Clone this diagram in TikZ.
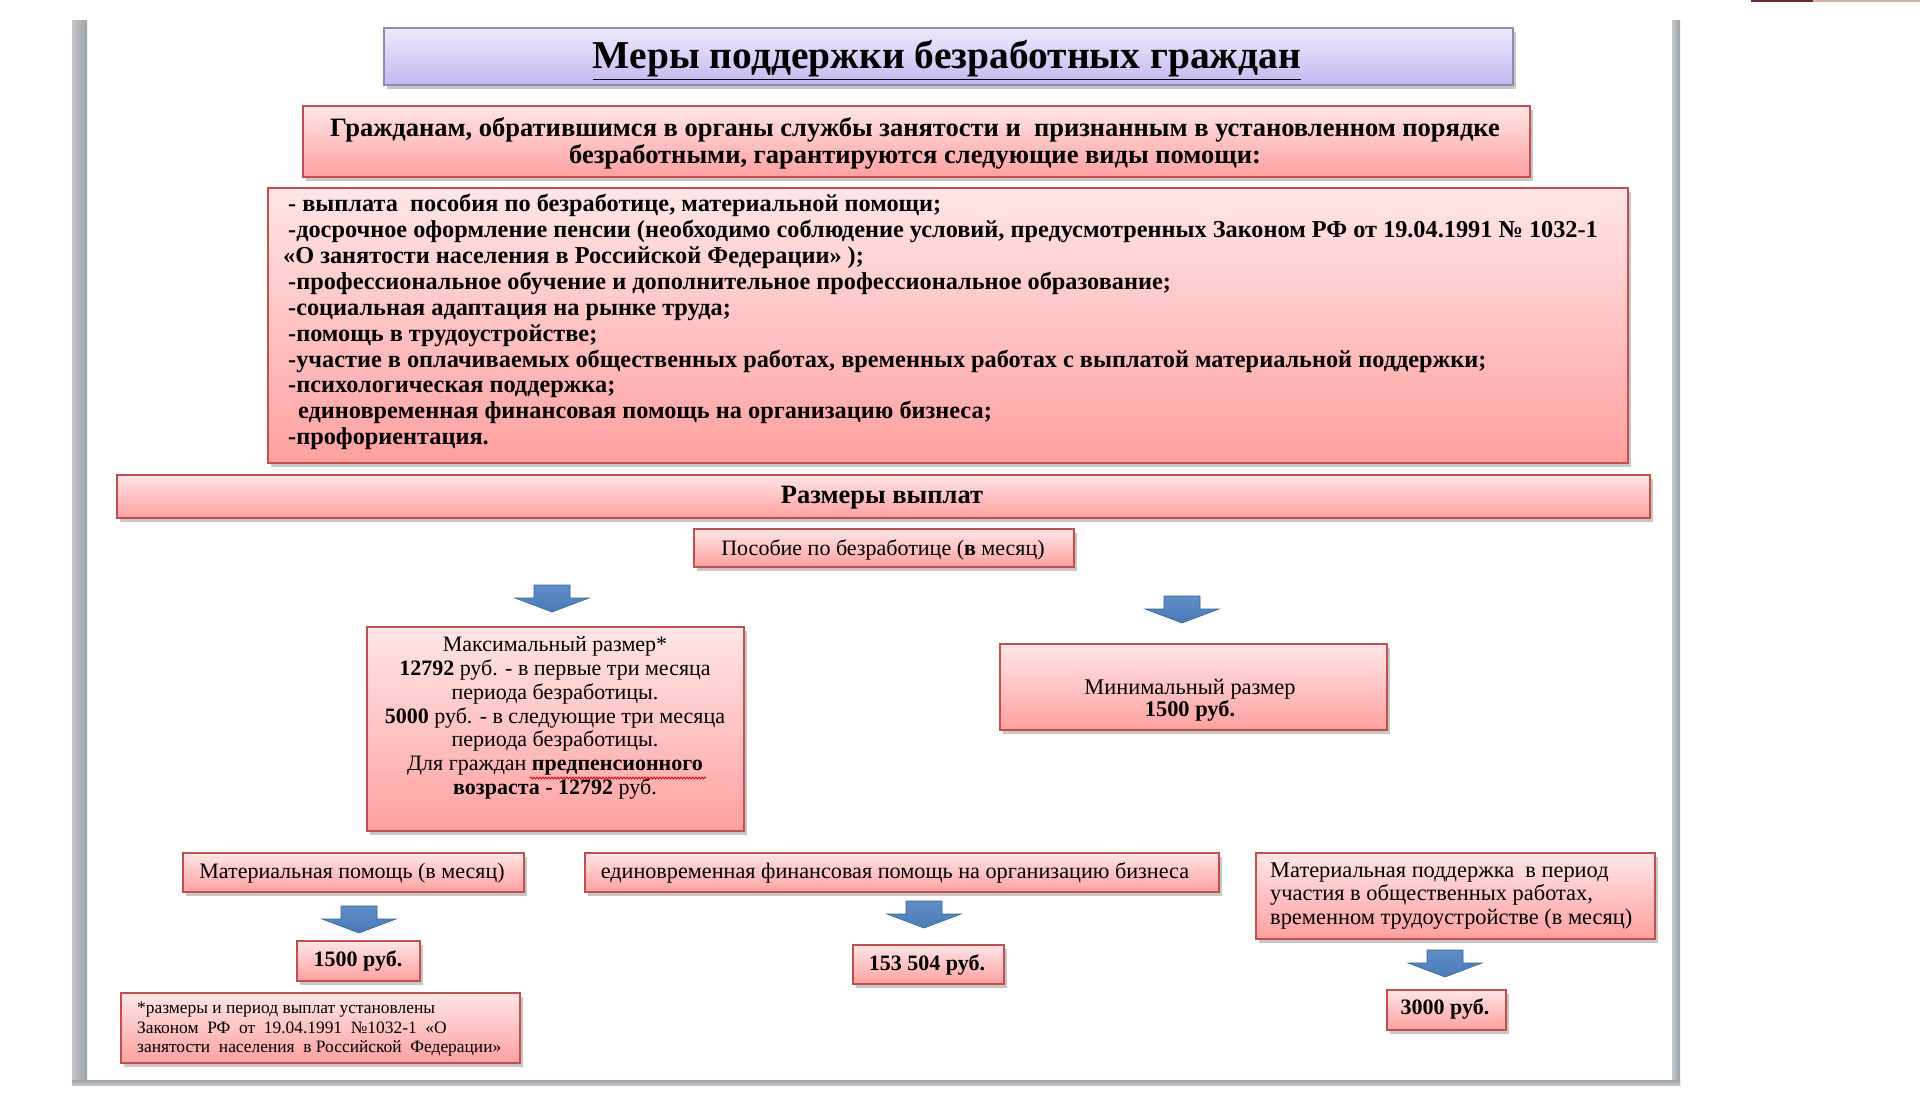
\documentclass[tikz,border=0pt]{standalone}
\usepackage{fontspec}
\setmainfont{Liberation Serif}
\usetikzlibrary{shadows,decorations.pathmorphing}
\definecolor{pinktop}{HTML}{FFE6E6}
\definecolor{pinkbot}{HTML}{FFA0A0}
\definecolor{pinkline}{HTML}{C0504D}
\definecolor{lavtop}{HTML}{EFEAFC}
\definecolor{lavbot}{HTML}{C5B7F0}
\definecolor{lavline}{HTML}{8F88B2}
\definecolor{arrowblue}{HTML}{4A7BB7}
\definecolor{arrowlight}{HTML}{5F8DC7}
\definecolor{pageleft}{HTML}{C3C7CC}
\definecolor{pageright}{HTML}{9EA3A8}
\tikzset{
  box/.style={inner sep=0pt, anchor=north west, line width=1.5pt,
    drop shadow={shadow xshift=3pt, shadow yshift=-4pt, fill=black, opacity=.22}},
  pinkbox/.style={box, draw=pinkline, top color=pinktop, bottom color=pinkbot},
  lavbox/.style={box, draw=lavline, top color=lavtop, bottom color=lavbot},
  txt/.style={inner sep=0pt, text=black},
  blockarrow/.style={top color=arrowlight, bottom color=arrowblue, draw=arrowblue!80!black, line width=0.6pt},
  squiggle/.style={draw=red!85!black, line width=0.8pt, decorate, decoration={snake, amplitude=1pt, segment length=3pt}},
}
\begin{document}
\begin{tikzpicture}[x=1pt,y=-1pt]
\useasboundingbox (0,0) rectangle (1920,1112);
% page
\fill[white] (87,0) rectangle (1672,1080);
\shade[left color=pageleft, right color=pageright] (72,20) rectangle (87,1085);
\shade[left color=pageleft, right color=pageright] (1672,20) rectangle (1680,1085);
\shade[top color=pageright, bottom color=pageleft] (72,1080) rectangle (1680,1085);
\draw[line width=2pt, color={rgb,255:red,110;green,40;blue,40}] (1751,1) -- (1813,1);
\draw[line width=2pt, color={rgb,255:red,215;green,175;blue,165}] (1813,1) -- (1920,1);

% boxes
\node[lavbox, minimum width=1129pt, minimum height=57pt] (title) at (383,27) {};
\node[pinkbox, minimum width=1227pt, minimum height=71pt] (intro) at (302,105) {};
\node[pinkbox, minimum width=1360pt, minimum height=275pt] (list) at (267,187) {};
\node[pinkbox, minimum width=1533pt, minimum height=43pt] (sizes) at (116,474) {};
\node[pinkbox, minimum width=380pt, minimum height=38pt] (benefit) at (693,528) {};
\node[pinkbox, minimum width=377pt, minimum height=204pt] (maxb) at (366,626) {};
\node[pinkbox, minimum width=387pt, minimum height=86pt] (minb) at (999,643) {};
\node[pinkbox, minimum width=341pt, minimum height=39pt] (aid) at (182,852) {};
\node[pinkbox, minimum width=634pt, minimum height=39pt] (biz) at (584,852) {};
\node[pinkbox, minimum width=399pt, minimum height=86pt] (supp) at (1255,852) {};
\node[pinkbox, minimum width=123pt, minimum height=40pt] (aidv) at (296,940) {};
\node[pinkbox, minimum width=151pt, minimum height=39pt] (bizv) at (852,944) {};
\node[pinkbox, minimum width=119pt, minimum height=40pt] (suppv) at (1386,989) {};
\node[pinkbox, minimum width=399pt, minimum height=70pt] (note) at (120,992) {};

% texts
\node[txt, font=\fontsize{39.5}{41}\selectfont\bfseries] (titlet) at (947,60) {\underline{Меры поддержки безработных граждан}};
\node[txt, align=center, font=\fontsize{26.5}{27}\selectfont\bfseries] (introt) at (915,143.5)
  {Гражданам, обратившимся в органы службы занятости и\ \ признанным в установленном порядке\\
   безработными, гарантируются следующие виды помощи:};
\node[txt, align=left, anchor=north west, font=\fontsize{24.3}{25.9}\selectfont\bfseries] (listt) at (288,194)
  {- выплата\ \ пособия по безработице, материальной помощи;\\
   -досрочное оформление пенсии (необходимо соблюдение условий, предусмотренных Законом РФ от 19.04.1991 № 1032-1\\
   \hspace*{-5pt}«О занятости населения в Российской Федерации» );\\
   -профессиональное обучение и дополнительное профессиональное образование;\\
   -социальная адаптация на рынке труда;\\
   -помощь в трудоустройстве;\\
   -участие в оплачиваемых общественных работах, временных работах с выплатой материальной поддержки;\\
   -психологическая поддержка;\\
   \hspace*{10pt}единовременная финансовая помощь на организацию бизнеса;\\
   -профориентация.};
\node[txt, font=\fontsize{26.5}{28}\selectfont\bfseries] (sizest) at (882,497.5) {Размеры выплат};
\node[txt, font=\fontsize{22}{24}\selectfont] (benefitt) at (883,549.5) {Пособие по безработице (\textbf{в} месяц)};
\node[txt, align=center, font=\fontsize{22}{23.8}\selectfont] (maxt) at (555,718)
  {Максимальный размер*\\
   \textbf{12792} руб. - в первые три месяца\\
   периода безработицы.\\
   \textbf{5000} руб. - в следующие три месяца\\
   периода безработицы.\\
   Для граждан \textbf{предпенсионного}\\
   \textbf{возраста - 12792} руб.};
\coordinate (sqa) at (530,778);
\coordinate (sqb) at (706,778);
\draw[squiggle] (sqa) -- (sqb);
\node[txt, align=center, font=\fontsize{22.4}{22}\selectfont] (mint) at (1190,700)
  {Минимальный размер\\ \textbf{1500 руб.}};
\node[txt, font=\fontsize{22}{24}\selectfont] (aidt) at (352,873) {Материальная помощь (в месяц)};
\node[txt, font=\fontsize{22.2}{24}\selectfont] (bizt) at (895,873) {единовременная финансовая помощь на организацию бизнеса};
\node[txt, align=left, anchor=west, font=\fontsize{22.4}{23.3}\selectfont] (suppt) at (1270,896)
  {Материальная поддержка\ \ в период\\ участия в общественных работах,\\ временном трудоустройстве (в месяц)};
\node[txt, font=\fontsize{22}{24}\selectfont\bfseries] (aidvt) at (358,961) {1500 руб.};
\node[txt, font=\fontsize{22}{24}\selectfont\bfseries] (bizvt) at (927,965) {153 504 руб.};
\node[txt, font=\fontsize{22}{24}\selectfont\bfseries] (suppvt) at (1445,1009) {3000 руб.};
\node[txt, align=left, anchor=west, font=\fontsize{17.4}{19.5}\selectfont] (notet) at (137,1029.5)
  {*размеры и период выплат установлены\\ Законом\ \ РФ\ \ от\ \ 19.04.1991\ \ №1032-1\ \ «О\\ занятости\ \ населения\ \ в Российской\ \ Федерации»};

% block arrows
\coordinate (a1) at (552,585);
\coordinate (a2) at (1182,596);
\coordinate (a3) at (359,906);
\coordinate (a4) at (924,901);
\coordinate (a5) at (1445,950);
\foreach \c in {a1,a2,a3,a4,a5}{
  \draw[blockarrow] ([shift={(-18,0)}]\c) -- ([shift={(18,0)}]\c) -- ([shift={(18,13)}]\c)
    -- ([shift={(37,13)}]\c) -- ([shift={(0,27)}]\c) -- ([shift={(-37,13)}]\c)
    -- ([shift={(-18,13)}]\c) -- cycle;
}
\end{tikzpicture}
\end{document}
